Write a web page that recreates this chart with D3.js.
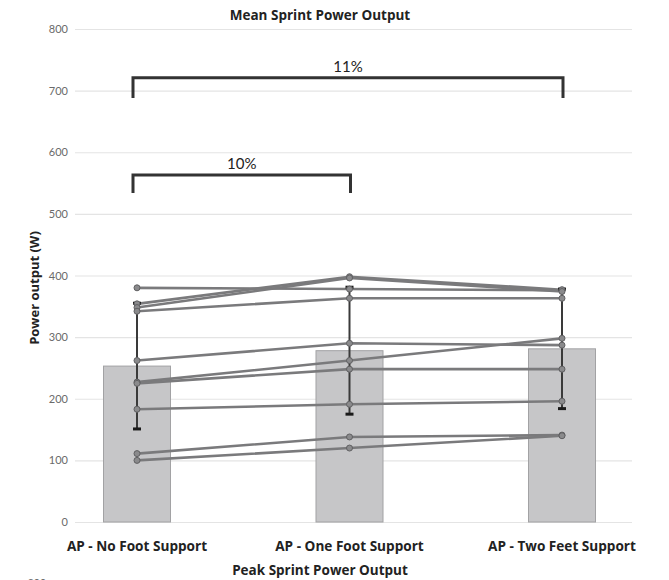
<!DOCTYPE html>
<html>
<head>
<meta charset="utf-8">
<script src="https://cdn.jsdelivr.net/npm/d3@7/dist/d3.min.js"></script>
<style>
  html, body { margin: 0; padding: 0; background: #fff; }
  svg { display: block; }
</style>
</head>
<body>
<svg id="chart" width="669" height="580"></svg>
<script>
// Conditions on the x axis
const categories = ["AP - No Foot Support", "AP - One Foot Support", "AP - Two Feet Support"];
// Group means (bars) and standard deviations (error bars), W
const meanPower = [253, 278, 281];
const sdPower = [102, 103, 97];
// Individual participants, one value per condition, W
const subjects = [
  [380, 378, 376],
  [354, 398, 377],
  [348, 396, 374],
  [342, 363, 363],
  [262, 290, 287],
  [227, 262, 298],
  [225, 248, 248],
  [183, 191, 196],
  [111, 138, 141],
  [100, 120, 140]
];
const yTicks = [0, 100, 200, 300, 400, 500, 600, 700, 800];
// Significance brackets: from/to category index, bar height, leg end, label
const brackets = [
  { from: 0, to: 2, top: 721, leg: 688, label: "11%" },
  { from: 0, to: 1, top: 563, leg: 534, label: "10%" }
];

const svg = d3.select("#chart");
const font = "Lato, 'Open Sans', sans-serif";
const boldFont = "'Open Sans', Lato, sans-serif";

const y = d3.scaleLinear().domain([0, 800]).range([522, 29]);
const x = d3.scalePoint().domain(categories).range([137, 562]);
const barW = 67;
const gridX0 = 75, gridX1 = 632;

// Title
svg.append("text")
  .attr("x", 320).attr("y", 20)
  .attr("text-anchor", "middle")
  .attr("font-family", boldFont).attr("font-weight", "bold")
  .attr("font-size", 13.5).attr("fill", "#222")
  .text("Mean Sprint Power Output");

// Gridlines + y axis labels
const yAxis = d3.axisLeft(y).tickValues(yTicks).tickSize(-(gridX1 - gridX0)).tickPadding(7);
const gAxis = svg.append("g").attr("transform", `translate(${gridX0},0)`).call(yAxis);
gAxis.select(".domain").remove();
gAxis.selectAll(".tick line").attr("stroke", "#e4e4e4").attr("stroke-width", 1.2);
gAxis.selectAll(".tick text")
  .attr("fill", "#6a6a6a").attr("font-family", font).attr("font-size", 11);

// Y axis title
svg.append("text")
  .attr("transform", `translate(39,288) rotate(-90)`)
  .attr("text-anchor", "middle")
  .attr("font-family", boldFont).attr("font-weight", "bold")
  .attr("font-size", 13).attr("fill", "#222")
  .text("Power output (W)");

// Bars
svg.append("g").selectAll("rect")
  .data(categories)
  .join("rect")
  .attr("x", d => x(d) - barW / 2)
  .attr("y", (d, i) => y(meanPower[i]))
  .attr("width", barW)
  .attr("height", (d, i) => y(0) - y(meanPower[i]))
  .attr("fill", "#c6c6c8")
  .attr("stroke", "#a2a2a4")
  .attr("stroke-width", 1);

// Participant lines
const line = d3.line().x((d, i) => x(categories[i])).y(d => y(d));
svg.append("g").selectAll("path")
  .data(subjects)
  .join("path")
  .attr("d", line)
  .attr("fill", "none")
  .attr("stroke", "#7a7a7c")
  .attr("stroke-width", 2.6);

// Error bars
const eg = svg.append("g");
categories.forEach((c, i) => {
  const cx = x(c);
  eg.append("line")
    .attr("x1", cx).attr("x2", cx)
    .attr("y1", y(meanPower[i] + sdPower[i])).attr("y2", y(meanPower[i] - sdPower[i]))
    .attr("stroke", "#3a3a3a").attr("stroke-width", 2);
  [meanPower[i] + sdPower[i], meanPower[i] - sdPower[i]].forEach(v => {
    eg.append("rect")
      .attr("x", cx - 4).attr("y", y(v) - 1.5)
      .attr("width", 8).attr("height", 3)
      .attr("fill", "#1a1a1a");
  });
});

// Participant points
svg.append("g").selectAll("g")
  .data(subjects)
  .join("g")
  .selectAll("circle")
  .data(d => d)
  .join("circle")
  .attr("cx", (d, i) => x(categories[i]))
  .attr("cy", d => y(d))
  .attr("r", 3)
  .attr("fill", "#8a8a8c")
  .attr("stroke", "#606062")
  .attr("stroke-width", 1);

// Significance brackets
const bg = svg.append("g");
brackets.forEach(b => {
  const x0 = x(categories[b.from]) - 4, x1 = x(categories[b.to]) + 1;
  bg.append("path")
    .attr("d", `M${x0},${y(b.leg)}V${y(b.top)}H${x1}V${y(b.leg)}`)
    .attr("fill", "none")
    .attr("stroke", "#333")
    .attr("stroke-width", 3);
  bg.append("text")
    .attr("x", (x0 + x1) / 2).attr("y", y(b.top) - 6)
    .attr("text-anchor", "middle")
    .attr("font-family", font)
    .attr("font-size", 15).attr("fill", "#222")
    .text(b.label);
});

// Category labels
svg.append("g").selectAll("text")
  .data(categories)
  .join("text")
  .attr("x", d => x(d))
  .attr("y", 551)
  .attr("text-anchor", "middle")
  .attr("font-family", boldFont).attr("font-weight", "bold")
  .attr("font-size", 13.6).attr("fill", "#222")
  .text(d => d);

// Title of the following panel
svg.append("text")
  .attr("x", 320).attr("y", 575)
  .attr("text-anchor", "middle")
  .attr("font-family", boldFont).attr("font-weight", "bold")
  .attr("font-size", 13.5).attr("fill", "#222")
  .text("Peak Sprint Power Output");
svg.append("text")
  .attr("x", 46).attr("y", 587)
  .attr("text-anchor", "end")
  .attr("font-family", font)
  .attr("font-size", 10.5).attr("fill", "#6a6a6a")
  .text("800");
</script>
</body>
</html>
